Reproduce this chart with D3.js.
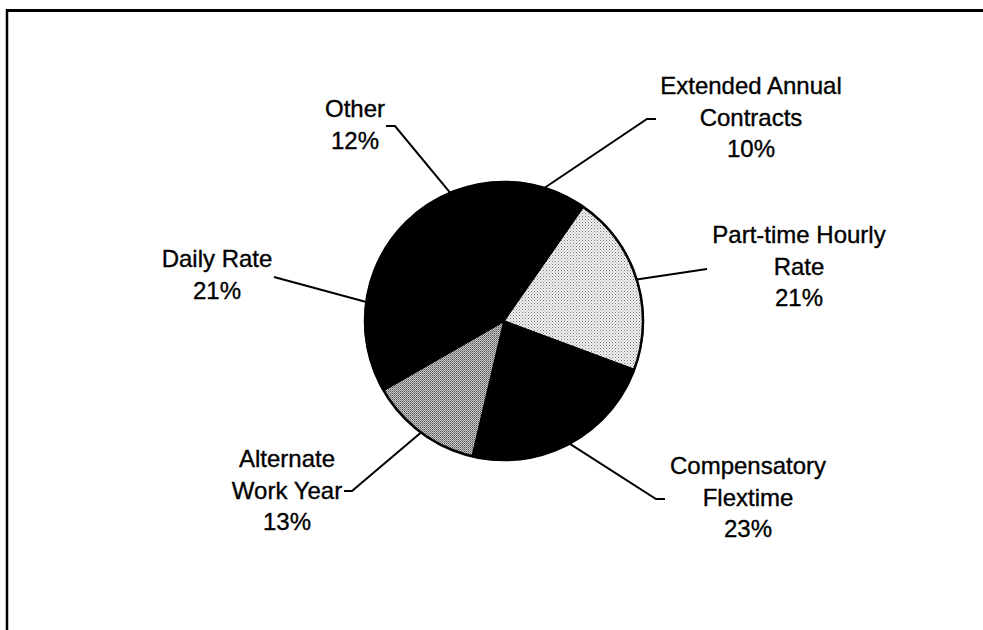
<!DOCTYPE html>
<html>
<head>
<meta charset="utf-8">
<script src="https://cdn.jsdelivr.net/npm/d3@7"></script>
<style>
  html, body { margin: 0; padding: 0; background: #fff; }
  svg { display: block; }
  text { font-family: "Liberation Sans", Arial, sans-serif; font-size: 24px; fill: #000; stroke: #000; stroke-width: 0.35px; }
</style>
</head>
<body>
<svg id="chart" width="983" height="630"></svg>
<script>
// ---- data ----
const categories = ["Extended Annual Contracts", "Part-time Hourly Rate", "Compensatory Flextime",
                    "Alternate Work Year", "Daily Rate", "Other"];
const values = [10, 21, 23, 13, 21, 12];
const labelLines = [
  ["Extended Annual", "Contracts", "10%"],
  ["Part-time Hourly", "Rate", "21%"],
  ["Compensatory", "Flextime", "23%"],
  ["Alternate", "Work Year", "13%"],
  ["Daily Rate", "21%"],
  ["Other", "12%"]
];

// ---- layout / style ----
const W = 983, H = 630;
const cx = 504, cy = 321, R = 139;
const fills = ["#000", "url(#dots)", "#000", "url(#dither)", "#000", "#000"];
// label anchor (center x, first baseline) and leader elbow/end points
const labelPos = [
  {x: 751, y: 94,  elbow: [647, 119], end: [656, 119]},
  {x: 799, y: 243, elbow: [707, 269], end: [707, 269]},
  {x: 748, y: 474, elbow: [656, 499], end: [665, 499]},
  {x: 287, y: 467, elbow: [352, 491], end: [344, 491]},
  {x: 217, y: 267, elbow: [274, 277], end: [274, 277]},
  {x: 355, y: 117, elbow: [395, 126], end: [386, 126]}
];
const lineGap = 31.5;

const svg = d3.select("#chart");
svg.append("rect").attr("width", W).attr("height", H).attr("fill", "#fff");

const defs = svg.append("defs");
const dots = defs.append("pattern").attr("id", "dots").attr("patternUnits", "userSpaceOnUse")
  .attr("width", 3).attr("height", 3);
dots.append("rect").attr("width", 3).attr("height", 3).attr("fill", "#f2f2f2");
dots.append("rect").attr("x", 0).attr("y", 0).attr("width", 1).attr("height", 1).attr("fill", "#777");
dots.append("rect").attr("x", 1.5).attr("y", 1.5).attr("width", 1).attr("height", 1).attr("fill", "#999");

const dither = defs.append("pattern").attr("id", "dither").attr("patternUnits", "userSpaceOnUse")
  .attr("width", 2).attr("height", 2);
dither.append("rect").attr("width", 2).attr("height", 2).attr("fill", "#c8c8c8");
dither.append("rect").attr("x", 0).attr("y", 0).attr("width", 1).attr("height", 1).attr("fill", "#555");
dither.append("rect").attr("x", 1).attr("y", 1).attr("width", 1).attr("height", 1).attr("fill", "#888");

// frame
svg.append("line").attr("x1", 6).attr("x2", W + 2).attr("y1", 10.5).attr("y2", 10.5)
  .attr("stroke", "#000").attr("stroke-width", 3);
svg.append("line").attr("x1", 7).attr("x2", 7).attr("y1", 9).attr("y2", H + 2)
  .attr("stroke", "#000").attr("stroke-width", 2.5);

const pie = d3.pie().sort(null).value(d => d).startAngle(-0.02).endAngle(2 * Math.PI - 0.02);
const arcs = pie(values);
const arc = d3.arc().innerRadius(0).outerRadius(R);

const g = svg.append("g").attr("transform", `translate(${cx},${cy})`);
g.selectAll("path.slice").data(arcs).join("path")
  .attr("class", "slice")
  .attr("d", arc)
  .attr("fill", (d, i) => fills[i])
  .attr("stroke", "#000").attr("stroke-width", 1.5);
g.append("circle").attr("r", R).attr("fill", "none").attr("stroke", "#000").attr("stroke-width", 2.5);

// leader lines
const edge = d3.arc().innerRadius(R).outerRadius(R);
arcs.forEach((d, i) => {
  const p = edge.centroid(d);
  const L = labelPos[i];
  const pts = [[cx + p[0], cy + p[1]], L.elbow, L.end];
  svg.append("path").attr("d", d3.line()(pts))
    .attr("fill", "none").attr("stroke", "#000").attr("stroke-width", 2);
});

// labels
labelLines.forEach((lines, i) => {
  const L = labelPos[i];
  const t = svg.append("text").attr("text-anchor", "middle");
  lines.forEach((s, j) => {
    t.append("tspan").attr("x", L.x).attr("y", L.y + j * lineGap).text(s);
  });
});
</script>
</body>
</html>
